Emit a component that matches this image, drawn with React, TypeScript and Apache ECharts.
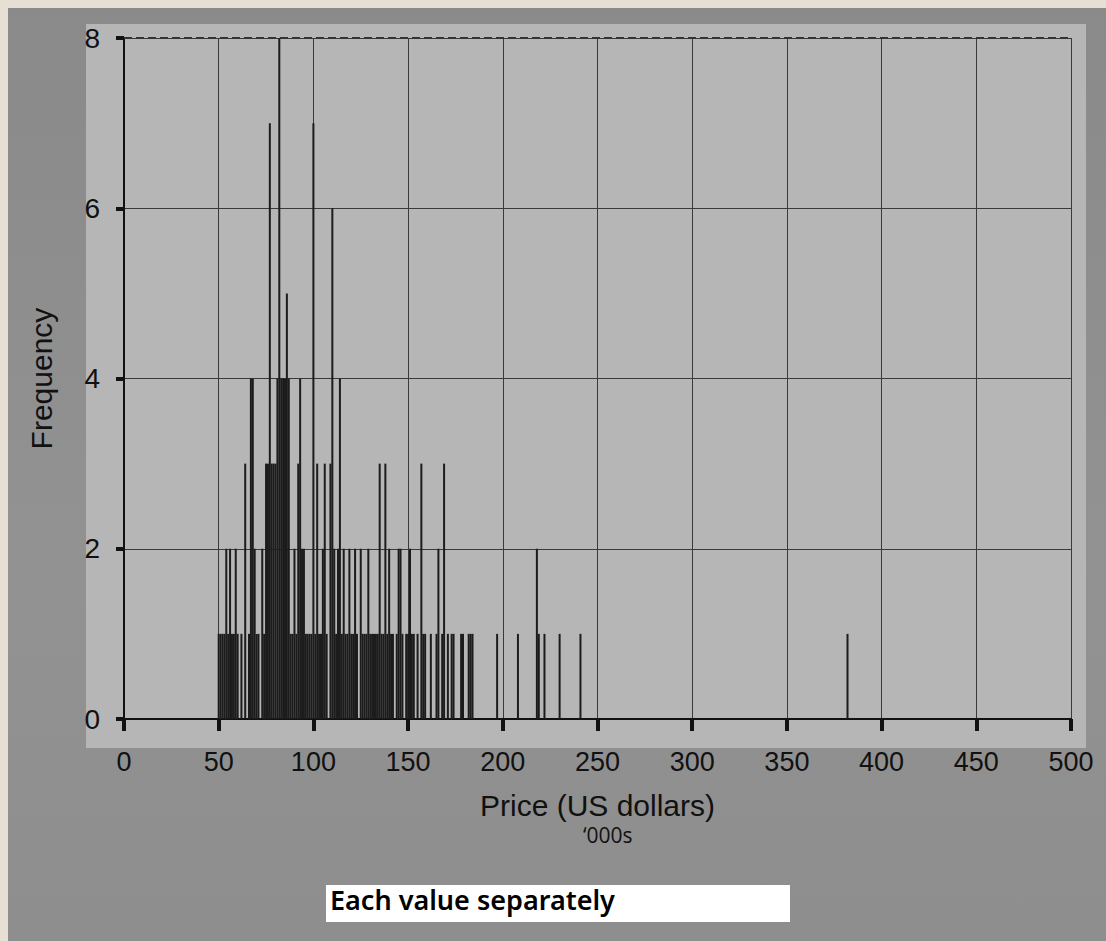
import React, { useEffect, useRef } from "react";
import * as echarts from "echarts";

// Price values (US$ '000s) and how many houses had each value
const prices = [
  50, 51, 52, 53, 54, 55, 56, 57, 58, 59, 60, 62, 64, 66, 67, 68, 69, 70, 71, 73,
  74, 75, 76, 77, 78, 79, 80, 81, 82, 83, 84, 85, 86, 87, 88, 89, 90, 91, 92, 93,
  94, 95, 96, 97, 98, 99, 100, 101, 102, 103, 104, 105, 106, 107, 109, 110, 111, 112, 113, 114,
  115, 116, 117, 118, 119, 120, 121, 122, 123, 125, 126, 127, 128, 129, 130, 131, 132, 133, 134, 135,
  136, 137, 138, 139, 140, 141, 142, 144, 145, 146, 147, 149, 150, 151, 152, 153, 155, 157, 158, 159,
  162, 165, 166, 168, 169, 171, 173, 174, 178, 179, 182, 183, 184, 197, 208, 218, 219, 222, 230, 241,
  382,
];
const frequencies = [
  1, 1, 1, 1, 2, 1, 2, 1, 1, 2, 1, 1, 3, 1, 4, 4, 2, 1, 1, 2,
  1, 3, 3, 7, 3, 3, 3, 4, 8, 4, 4, 4, 5, 4, 1, 1, 2, 1, 3, 4,
  2, 2, 1, 1, 1, 1, 7, 1, 3, 1, 1, 2, 3, 1, 3, 6, 2, 1, 2, 4,
  1, 2, 1, 1, 2, 1, 1, 2, 1, 2, 1, 1, 1, 2, 1, 1, 1, 1, 1, 3,
  1, 1, 3, 1, 2, 1, 1, 1, 2, 2, 1, 1, 1, 2, 1, 1, 1, 3, 1, 1,
  1, 1, 2, 1, 3, 1, 1, 1, 1, 1, 1, 1, 1, 1, 1, 2, 1, 1, 1, 1,
  1,
];
const xTicks = { min: 0, max: 500, interval: 50 };
const yTicks = { min: 0, max: 8, interval: 2 };
const xTitle = "Price (US dollars)";
const xUnit = "\u2018000s";
const yTitle = "Frequency";
const caption = "Each value separately";

export default function App() {
  const ref = useRef<HTMLDivElement>(null);
  useEffect(() => {
    if (!ref.current) return;
    const chart = echarts.init(ref.current, null, { renderer: "svg" });
    const font = "'Liberation Sans', Arial, sans-serif";
    const data = prices.map((p, i) => [p, frequencies[i]]);
    chart.setOption({
      animation: false,
      backgroundColor: "transparent",
      grid: { left: 124, right: 35, top: 38, bottom: 222, containLabel: false },
      xAxis: {
        type: "value",
        min: xTicks.min,
        max: xTicks.max,
        interval: xTicks.interval,
        name: xTitle,
        nameLocation: "middle",
        nameGap: 71,
        nameTextStyle: { fontFamily: font, fontSize: 30, color: "#111" },
        axisLine: { show: true, lineStyle: { color: "#111", width: 2 } },
        axisTick: { show: true, length: 12, lineStyle: { color: "#111", width: 4 } },
        axisLabel: { fontFamily: font, fontSize: 27, color: "#111", margin: 29 },
        splitLine: { show: true, lineStyle: { color: "#3a3a3a", width: 1 } },
      },
      yAxis: {
        type: "value",
        min: yTicks.min,
        max: yTicks.max,
        interval: yTicks.interval,
        offset: 8,
        name: yTitle,
        nameLocation: "middle",
        nameGap: 60,
        nameRotate: 90,
        nameTextStyle: { fontFamily: font, fontSize: 30, color: "#111" },
        axisLine: { show: true, lineStyle: { color: "#111", width: 2 } },
        axisTick: { show: true, length: 8, lineStyle: { color: "#111", width: 4 } },
        axisLabel: { fontFamily: font, fontSize: 28, color: "#111", margin: 16 },
        splitLine: { show: true, lineStyle: { color: "#3a3a3a", width: 1 } },
      },
      series: [
        {
          type: "bar",
          data,
          barWidth: 2,
          itemStyle: { color: "#1c1c1c" },
          markLine: {
            silent: true,
            symbol: "none",
            label: { show: false },
            lineStyle: { color: "#333", type: "dashed", width: 2 },
            data: [{ yAxis: yTicks.max }],
          },
        },
      ],
      graphic: [
        {
          type: "text",
          left: 583,
          top: 824,
          style: { text: xUnit, fontFamily: "'Open Sans', sans-serif", fontSize: 21, fill: "#111" },
        },
        {
          type: "rect",
          shape: { x: 326, y: 885, width: 464, height: 37 },
          style: { fill: "#ffffff" },
        },
        {
          type: "text",
          left: 330,
          top: 886,
          style: {
            text: caption,
            fontFamily: "'Noto Sans', 'DejaVu Sans', sans-serif",
            fontWeight: 600,
            fontSize: 27,
            fill: "#000",
          },
        },
      ],
    });
    return () => chart.dispose();
  }, []);
  return (
    <div style={{ position: "fixed", left: 0, top: 0, width: 1106, height: 941, background: "#e7dfd3" }}>
      <div
        style={{
          position: "absolute",
          left: 8,
          top: 8,
          right: 0,
          bottom: 0,
          background: "linear-gradient(180deg, #8a8a8a 0%, #929292 60%, #8e8e8e 100%)",
        }}
      />
      <div
        style={{
          position: "absolute",
          left: 86,
          top: 24,
          width: 1000,
          height: 724,
          background: "#b6b6b6",
        }}
      />
      <div ref={ref} style={{ position: "absolute", left: 0, top: 0, width: 1106, height: 941 }} />
    </div>
  );
}
